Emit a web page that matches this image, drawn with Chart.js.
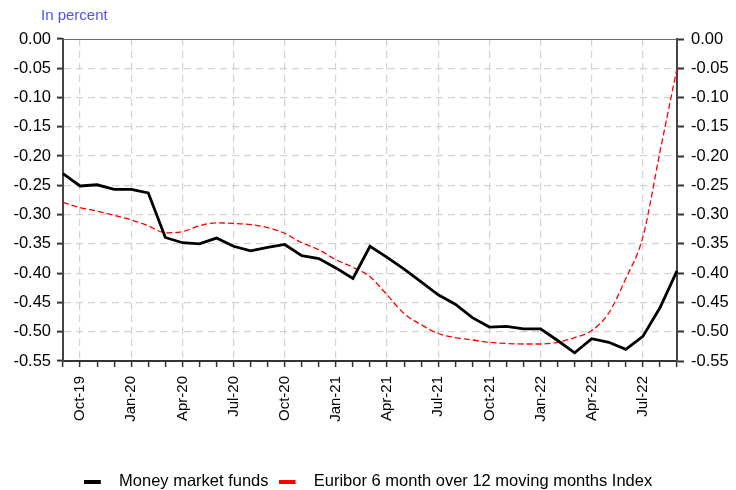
<!DOCTYPE html>
<html>
<head>
<meta charset="utf-8">
<script src="https://cdn.jsdelivr.net/npm/chart.js@4"></script>
<style>
  html, body { margin: 0; padding: 0; background: #fff; }
  #wrap { width: 736px; height: 490px; }
</style>
</head>
<body>
<div id="wrap"><canvas id="mmfChart" width="736" height="490"></canvas></div>
<script>
const months = [
  'Sep-19', 'Oct-19', 'Nov-19', 'Dec-19', 'Jan-20', 'Feb-20', 'Mar-20', 'Apr-20', 'May-20',
  'Jun-20', 'Jul-20', 'Aug-20', 'Sep-20', 'Oct-20', 'Nov-20', 'Dec-20', 'Jan-21', 'Feb-21',
  'Mar-21', 'Apr-21', 'May-21', 'Jun-21', 'Jul-21', 'Aug-21', 'Sep-21', 'Oct-21', 'Nov-21',
  'Dec-21', 'Jan-22', 'Feb-22', 'Mar-22', 'Apr-22', 'May-22', 'Jun-22', 'Jul-22', 'Aug-22',
  'Sep-22',
]

const moneyMarketFunds = [
  -0.230, -0.251, -0.249, -0.257, -0.257, -0.263, -0.339, -0.348, -0.350,
  -0.340, -0.354, -0.362, -0.356, -0.351, -0.370, -0.375, -0.391, -0.409,
  -0.354, -0.373, -0.393, -0.415, -0.437, -0.453, -0.476, -0.492, -0.491,
  -0.495, -0.495, -0.515, -0.536, -0.512, -0.518, -0.530, -0.508, -0.459,
  -0.396,
]

const euribor6m = [
  -0.279, -0.288, -0.294, -0.301, -0.309, -0.319, -0.331, -0.329, -0.319,
  -0.314, -0.315, -0.317, -0.322, -0.332, -0.348, -0.360, -0.377, -0.390,
  -0.406, -0.437, -0.469, -0.488, -0.503, -0.510, -0.514, -0.518, -0.520,
  -0.521, -0.521, -0.518, -0.510, -0.498, -0.468, -0.409, -0.338, -0.193,
  -0.050,
]

const yMin = -0.55
const yMax = 0
const yStep = 0.05

const unitLabel = 'In percent'

const FONT = "'Liberation Sans', Arial, sans-serif"

// quarter months get a label and a vertical grid line
const isQuarter = (i) => i % 3 === 1

function fmt(v) {
  if (Math.abs(v) < 1e-9) return '0.00'
  return v.toFixed(2)
}

// legend sample: short thick line, blank space after it before the text
function legendSwatch(color) {
  const c = document.createElement('canvas')
  c.width = 27
  c.height = 4
  const g = c.getContext('2d')
  g.fillStyle = color
  g.fillRect(0, 0, 17, 4)
  return c
}

// top frame line + the little "In percent" unit label above the left axis
const frameAndUnit = {
  id: 'frameAndUnit',
  afterDraw(chart) {
    const { ctx, chartArea } = chart
    ctx.save()
    ctx.strokeStyle = '#6a6a6a'
    ctx.lineWidth = 1
    ctx.beginPath()
    ctx.moveTo(chartArea.left, chartArea.top + 0.5)
    ctx.lineTo(chartArea.right, chartArea.top + 0.5)
    ctx.stroke()

    ctx.fillStyle = '#5050ff'
    ctx.font = '15px ' + FONT
    ctx.textBaseline = 'middle'
    ctx.textAlign = 'left'
    ctx.fillText(unitLabel, 41, 16)
    ctx.restore()
  },
}

const yTicks = {
  color: '#000',
  font: { family: FONT, size: 16.5 },
  stepSize: yStep,
  callback: (v) => fmt(v),
}

new Chart(document.getElementById('mmfChart'), {
  type: 'line',
  data: {
    labels: months,
    datasets: [
      {
        label: 'Money market funds',
        data: moneyMarketFunds,
        borderColor: '#000',
        backgroundColor: '#000',
        borderWidth: 2.8,
        pointRadius: 0,
        tension: 0,
        pointStyle: legendSwatch('#000'),
      },
      {
        label: 'Euribor 6 month over 12 moving months Index',
        data: euribor6m,
        borderColor: '#ff0000',
        backgroundColor: '#ff0000',
        borderWidth: 1.3,
        borderDash: [6, 3],
        pointRadius: 0,
        cubicInterpolationMode: 'monotone',
        pointStyle: legendSwatch('#ff0000'),
      },
    ],
  },
  options: {
    responsive: false,
    animation: false,
    layout: { padding: { left: 0, right: 0, top: 39, bottom: -10 } },
    plugins: {
      title: { display: false },
      legend: {
        position: 'bottom',
        labels: {
          color: '#000',
          font: { family: FONT, size: 16.5 },
          usePointStyle: true,
          pointStyleWidth: 27,
          padding: 10,
        },
      },
      tooltip: { enabled: false },
    },
    scales: {
      x: {
        type: 'category',
        offset: false,
        afterFit: (s) => { s.height = 102.5 },
        grid: {
          color: (c) => (c.tick && isQuarter(c.index) ? '#d2d2d2' : 'rgba(0,0,0,0)'),
          lineWidth: 1.2,
          tickColor: '#333',
          tickLength: 6,
          tickWidth: 1.5,
        },
        border: { display: true, color: '#333', width: 2, dash: [7, 5] },
        ticks: {
          autoSkip: false,
          minRotation: 90,
          maxRotation: 90,
          padding: 9,
          color: '#000',
          font: { family: FONT, size: 15 },
          callback: (v, i) => (isQuarter(i) ? months[i] : ''),
        },
      },
      y: {
        position: 'left',
        min: yMin,
        max: yMax,
        afterFit: (s) => { s.width = 63 },
        grid: {
          color: (c) => (c.tick && c.tick.value > -1e-9 ? 'rgba(0,0,0,0)' : '#d2d2d2'),
          lineWidth: 1.2,
          tickColor: '#333',
          tickLength: 6,
          tickWidth: 2,
        },
        border: { display: true, color: '#444', width: 2, dash: [7, 5] },
        ticks: { ...yTicks, padding: 6 },
      },
      y2: {
        position: 'right',
        min: yMin,
        max: yMax,
        afterFit: (s) => { s.width = 59 },
        grid: {
          drawOnChartArea: false,
          tickColor: '#333',
          tickLength: 7,
          tickWidth: 2,
        },
        border: { display: true, color: '#444', width: 2 },
        ticks: { ...yTicks, padding: 7 },
      },
    },
  },
  plugins: [frameAndUnit],
})
</script>
</body>
</html>
